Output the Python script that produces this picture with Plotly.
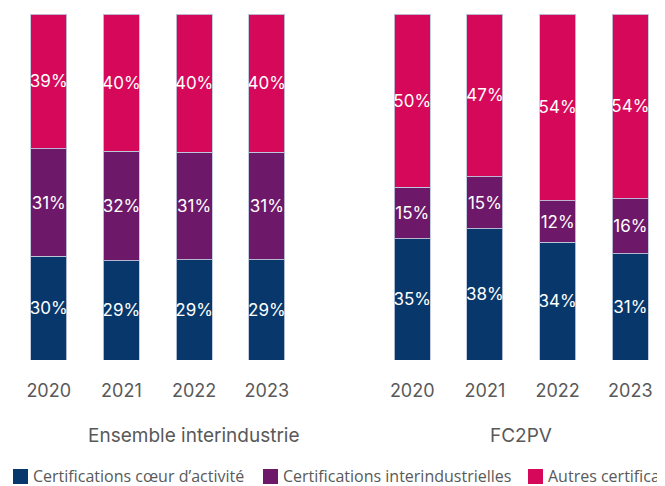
import plotly.graph_objects as go

# ---- data ----
groups = ["Ensemble interindustrie", "FC2PV"]
years = ["2020", "2021", "2022", "2023"]
series_names = ["Certifications cœur d’activité", "Certifications interindustrielles", "Autres certifications"]
coeur = [30, 29, 29, 29, 35, 38, 34, 31]
inter = [31, 32, 31, 31, 15, 15, 12, 16]
autres = [39, 40, 40, 40, 50, 47, 54, 54]
colors = ["#08386B", "#6E1869", "#D6085A"]

# x positions: one slot per year, with a blank slot between the two groups
xpos = []
xlabels = []
for gi, g in enumerate(groups):
    for yi, y in enumerate(years):
        xpos.append(gi * (len(years) + 1) + yi)
        xlabels.append(y)

FONT = "Inter"
W, H = 657, 478          # page body has an 8px margin
PLOT_TOP, PLOT_BOTTOM = 6, 352
PH = PLOT_BOTTOM - PLOT_TOP

fig = go.Figure()
for name, vals, col in zip(series_names, [coeur, inter, autres], colors):
    fig.add_trace(go.Bar(
        x=xpos, y=vals, name=name,
        marker=dict(color=col, line=dict(color="rgba(190,200,220,0.9)", width=1)),
        width=0.495,
        text=[f"{v}%" for v in vals],
        textposition="inside", insidetextanchor="middle", textangle=0,
        textfont=dict(color="white", size=17, family=FONT),
        showlegend=False,
    ))

fig.update_layout(
    width=W, height=H,
    barmode="stack", barnorm="percent",
    margin=dict(l=0, r=0, t=PLOT_TOP, b=H - PLOT_BOTTOM),
    plot_bgcolor="white", paper_bgcolor="white",
    uniformtext=dict(mode="show", minsize=17),
    xaxis=dict(range=[-0.560, 8.477], tickvals=xpos, ticktext=xlabels,
               showgrid=False, zeroline=False, showline=False,
               ticks="outside", ticklen=14, tickcolor="rgba(0,0,0,0)",
               tickfont=dict(family=FONT, size=18, color="#595959")),
    yaxis=dict(range=[0, 100], visible=False, showgrid=False),
)

# group labels
group_x = [2.0, 6.5]
for g, gx in zip(groups, group_x):
    fig.add_annotation(x=gx, xref="x", y=-0.217, yref="paper", text=g,
                       showarrow=False, xanchor="center", yanchor="middle",
                       font=dict(family=FONT, size=19, color="#595959"))

# legend (drawn manually so the last item can run past the right edge like the reference)
legend_px = [5, 255, 520]
for name, col, lx in zip(series_names, colors, legend_px):
    fig.add_shape(type="rect", xref="paper", yref="paper",
                  x0=lx / W, x1=(lx + 15) / W,
                  y0=-(476 - PLOT_BOTTOM) / PH, y1=-(461 - PLOT_BOTTOM) / PH,
                  fillcolor=col, line=dict(width=0))
    fig.add_annotation(x=(lx + 18) / W, xref="paper", y=-(468 - PLOT_BOTTOM) / PH, yref="paper",
                       text=name, showarrow=False, xanchor="left", yanchor="middle",
                       font=dict(family="Open Sans", size=16, color="#595959"))

fig.write_html("out.html")
